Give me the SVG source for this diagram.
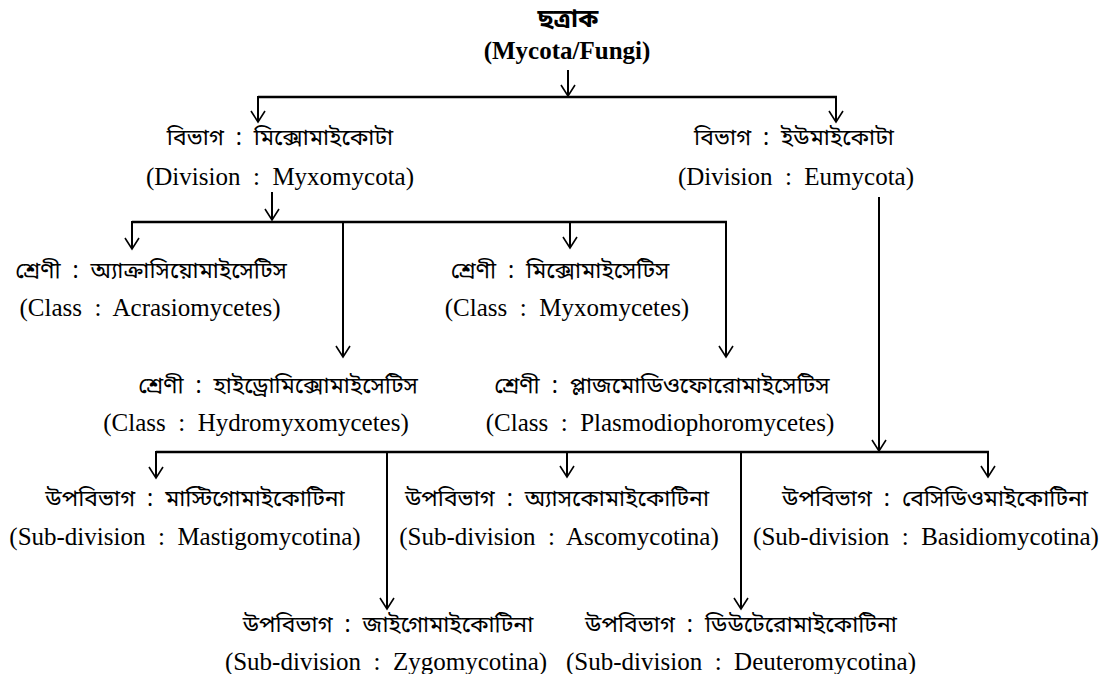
<svg xmlns="http://www.w3.org/2000/svg" width="1112" height="674" viewBox="0 0 1112 674">
<style>
  .t{font-family:"Liberation Serif","Times New Roman",serif;font-size:25px;fill:#000;text-anchor:middle}
  .b{font-family:"Noto Sans Bengali","Noto Serif Bengali","Lohit Bengali","Liberation Serif",serif;font-size:23px;fill:#000;text-anchor:middle}
  .bold{font-weight:bold}
  .ln{stroke:#000;stroke-width:2.4;fill:none}
  .ar{stroke:#000;stroke-width:2;fill:none;marker-end:url(#arr)}
</style>
<defs>
  <marker id="arr" markerUnits="userSpaceOnUse" viewBox="-12 -8 14 16" refX="0" refY="0" markerWidth="14" markerHeight="16" orient="auto">
    <path d="M-11,-7 L0,0 L-11,7" fill="none" stroke="#000" stroke-width="1.6"/>
  </marker>
</defs>
<rect width="1112" height="674" fill="#fff"/>
<g id="connectors">
  <line class="ar" x1="568" y1="70" x2="568" y2="96"/>
  <line class="ln" x1="258" y1="97" x2="837" y2="97"/>
  <line class="ar" x1="258" y1="96" x2="258" y2="122"/>
  <line class="ar" x1="836" y1="96" x2="836" y2="122"/>
  <line class="ar" x1="272" y1="192" x2="272" y2="220"/>
  <line class="ln" x1="132" y1="222" x2="727" y2="222"/>
  <line class="ar" x1="132" y1="221" x2="132" y2="249"/>
  <line class="ar" x1="343" y1="221" x2="343" y2="357"/>
  <line class="ar" x1="570" y1="221" x2="570" y2="248"/>
  <line class="ar" x1="726" y1="221" x2="726" y2="357"/>
  <line class="ar" x1="879" y1="197" x2="879" y2="451"/>
  <line class="ln" x1="156" y1="452" x2="989" y2="452"/>
  <line class="ar" x1="156" y1="451" x2="156" y2="478"/>
  <line class="ar" x1="387" y1="451" x2="387" y2="609"/>
  <line class="ar" x1="567" y1="451" x2="567" y2="477"/>
  <line class="ar" x1="741" y1="451" x2="741" y2="609"/>
  <line class="ar" x1="988" y1="451" x2="988" y2="477"/>
</g>
<g id="root">
  <text class="b bold" x="568" y="27" style="font-size:25px">ছত্রাক</text>
  <text class="t bold" x="567" y="59">(Mycota/Fungi)</text>
</g>
<g id="myxomycota">
  <text class="b" x="280" y="145">বিভাগ &#160;:&#160; মিক্সোমাইকোটা</text>
  <text class="t" x="280" y="185">(Division &#160;:&#160; Myxomycota)</text>
</g>
<g id="eumycota">
  <text class="b" x="794" y="145">বিভাগ &#160;:&#160; ইউমাইকোটা</text>
  <text class="t" x="796" y="185">(Division &#160;:&#160; Eumycota)</text>
</g>
<g id="acrasiomycetes">
  <text class="b" x="151" y="278">শ্রেণী &#160;:&#160; অ্যাক্রাসিয়োমাইসেটিস</text>
  <text class="t" x="150" y="316">(Class &#160;:&#160; Acrasiomycetes)</text>
</g>
<g id="myxomycetes">
  <text class="b" x="560" y="278">শ্রেণী &#160;:&#160; মিক্সোমাইসেটিস</text>
  <text class="t" x="567" y="316">(Class &#160;:&#160; Myxomycetes)</text>
</g>
<g id="hydromyxomycetes">
  <text class="b" x="278" y="393">শ্রেণী &#160;:&#160; হাইড্রোমিক্সোমাইসেটিস</text>
  <text class="t" x="256" y="431">(Class &#160;:&#160; Hydromyxomycetes)</text>
</g>
<g id="plasmodiophoromycetes">
  <text class="b" x="662" y="393">শ্রেণী &#160;:&#160; প্লাজমোডিওফোরোমাইসেটিস</text>
  <text class="t" x="660" y="431">(Class &#160;:&#160; Plasmodiophoromycetes)</text>
</g>
<g id="mastigomycotina">
  <text class="b" x="195" y="506">উপবিভাগ &#160;:&#160; মাস্টিগোমাইকোটিনা</text>
  <text class="t" x="185" y="545">(Sub-division &#160;:&#160; Mastigomycotina)</text>
</g>
<g id="ascomycotina">
  <text class="b" x="557" y="506">উপবিভাগ &#160;:&#160; অ্যাসকোমাইকোটিনা</text>
  <text class="t" x="559" y="545">(Sub-division &#160;:&#160; Ascomycotina)</text>
</g>
<g id="basidiomycotina">
  <text class="b" x="935" y="506">উপবিভাগ &#160;:&#160; বেসিডিওমাইকোটিনা</text>
  <text class="t" x="926" y="545">(Sub-division &#160;:&#160; Basidiomycotina)</text>
</g>
<g id="zygomycotina">
  <text class="b" x="388" y="632">উপবিভাগ &#160;:&#160; জাইগোমাইকোটিনা</text>
  <text class="t" x="386" y="670">(Sub-division &#160;:&#160; Zygomycotina)</text>
</g>
<g id="deuteromycotina">
  <text class="b" x="741" y="632">উপবিভাগ &#160;:&#160; ডিউটেরোমাইকোটিনা</text>
  <text class="t" x="741" y="670">(Sub-division &#160;:&#160; Deuteromycotina)</text>
</g>
</svg>
